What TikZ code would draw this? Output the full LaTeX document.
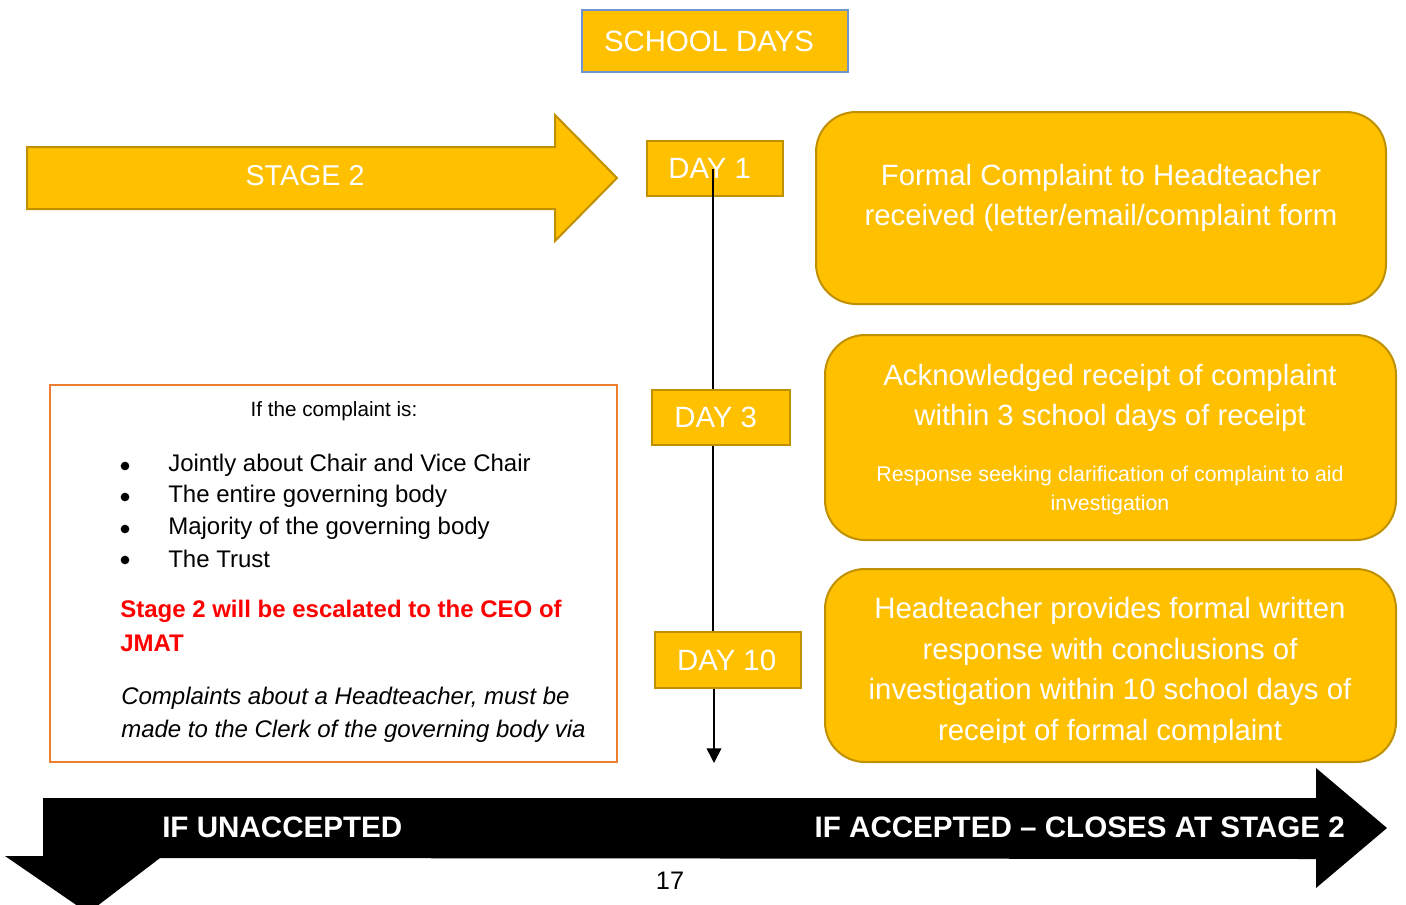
\documentclass[tikz,border=0pt]{standalone}
\usepackage{fontspec}
\setmainfont{Liberation Sans}
\usetikzlibrary{arrows.meta}
\definecolor{gold}{HTML}{FFC000}
\definecolor{darkgold}{HTML}{BF9000}
\definecolor{orangeline}{HTML}{ED7D31}
\definecolor{blueline}{HTML}{6F94D2}
\definecolor{alertred}{HTML}{FF0000}
\tikzset{
    daybox/.style={draw=darkgold, fill=gold, line width=1.5pt, text=white,
        font=\fontsize{22}{26}\selectfont, inner sep=0pt},
    card/.style={draw=darkgold, fill=gold, line width=1.5pt, rounded corners=30pt},
    cardtext/.style={text=white, align=center, font=\fontsize{22}{30}\selectfont},
    smalltext/.style={text=white, align=center, font=\fontsize{16}{21.75}\selectfont},
    listtext/.style={anchor=west, inner sep=0pt, font=\fontsize{18}{22}\selectfont},
    bullet/.style={circle, fill=black, inner sep=0pt, minimum size=6.5pt},
    bandtext/.style={text=white, inner sep=0pt, font=\fontsize{22.2}{26}\selectfont\bfseries}
}
\begin{document}
\begin{tikzpicture}[x=0.75pt, y=-0.75pt]

            \clip (0,0) rectangle (1406,904);

            %title
            \node[daybox, draw=blueline, line width=1pt, minimum width=199.5pt, minimum height=46.5pt]
                (schooldays) at (715,41) {SCHOOL DAYS\kern9pt};

            %stage arrow
            \draw[fill=gold, draw=darkgold, line width=1.5pt]
                (27,147) -- (555,147) -- (555,115) -- (617,178) -- (555,241) -- (555,209) -- (27,209) -- cycle;
            \node[text=white, font=\fontsize{21.5}{26}\selectfont] (stagetwo) at (305,176) {STAGE 2};

            %days
            \node[daybox, minimum width=102pt, minimum height=41pt] (day1) at (715,168.5) {DAY 1\kern8pt};
            \node[daybox, minimum width=103.5pt, minimum height=41pt] (day3) at (721,417.5) {DAY 3\kern8pt};
            \node[daybox, minimum width=109.5pt, minimum height=42pt] (day10) at (728,660) {DAY 10\kern2pt};
            \coordinate (timeend) at (714,763);
            \draw[line width=1.2pt] ([xshift=-1.5pt]day1.center) -- ([xshift=-1.5pt]day1.center |- day3.north);
            \draw[line width=1.2pt] ([xshift=-1.5pt]day1.center |- day3.south) -- ([xshift=-1.5pt]day1.center |- day10.north);
            \draw[line width=1.2pt, -{Triangle[width=11pt, length=11pt]}] (timeend |- day10.south) -- (timeend);

            %cards
            \draw[card] (816,112) rectangle (1386,304);
            \node[cardtext] (formal) at (1101,198)
                {Formal Complaint to Headteacher\\received (letter/email/complaint form};

            \draw[card] (825,335) rectangle (1396,540);
            \node[cardtext] (acknowledged) at (1110,398)
                {Acknowledged receipt of complaint\\within 3 school days of receipt};
            \node[smalltext] (clarify) at (1110,490)
                {Response seeking clarification of complaint to aid\\investigation};

            \draw[card] (825,569) rectangle (1396,762);
            \begin{scope}
                \clip (825,569) rectangle (1396,742);
                \node[cardtext, font=\fontsize{22}{30.5}\selectfont] (response) at (1110,672)
                    {Headteacher provides formal written\\response with conclusions of\\investigation within 10 school days of\\receipt of formal complaint};
            \end{scope}

            %escalation box
            \draw[orangeline, line width=1.5pt] (50,385) rectangle (617,762);
            \node[font=\fontsize{15.5}{20}\selectfont] (intro) at (334,411) {If the complaint is:};
            \node[bullet] (dot1) at (125,466) {};
            \node[bullet] (dot2) at (125,497) {};
            \node[bullet] (dot3) at (125,529) {};
            \node[bullet] (dot4) at (125,560) {};
            \node[listtext] (item1) at (168,465) {Jointly about Chair and Vice Chair};
            \node[listtext] (item2) at (168,496) {The entire governing body};
            \node[listtext] (item3) at (168,528) {Majority of the governing body};
            \node[listtext] (item4) at (168,559) {The Trust};
            \node[listtext, text=alertred, font=\fontsize{18}{22}\selectfont\bfseries] (ceo1) at (120,611)
                {Stage 2 will be escalated to the CEO of};
            \node[listtext, text=alertred, font=\fontsize{18}{22}\selectfont\bfseries] (ceo2) at (120,643) {JMAT};
            \node[listtext, font=\fontsize{18}{22}\selectfont\itshape] (clerk1) at (121,698)
                {Complaints about a Headteacher, must be};
            \node[listtext, font=\fontsize{18}{22}\selectfont\itshape] (clerk2) at (121,731)
                {made to the Clerk of the governing body via};

            %outcome band
            \fill[black] (43,798) -- (1316,798) -- (1316,768) -- (1387,828) -- (1316,888) -- (1316,859)
                -- (160,858) -- (88,913) -- (5,856) -- (43,856) -- cycle;
            \node[bandtext, anchor=west] (unaccepted) at (162,827) {IF UNACCEPTED};
            \node[bandtext, anchor=east] (accepted) at (1345,827) {IF ACCEPTED – CLOSES AT STAGE 2};

            \node[font=\fontsize{19}{22}\selectfont] (pagenum) at (670,881) {17};
        \end{tikzpicture}
\end{document}
